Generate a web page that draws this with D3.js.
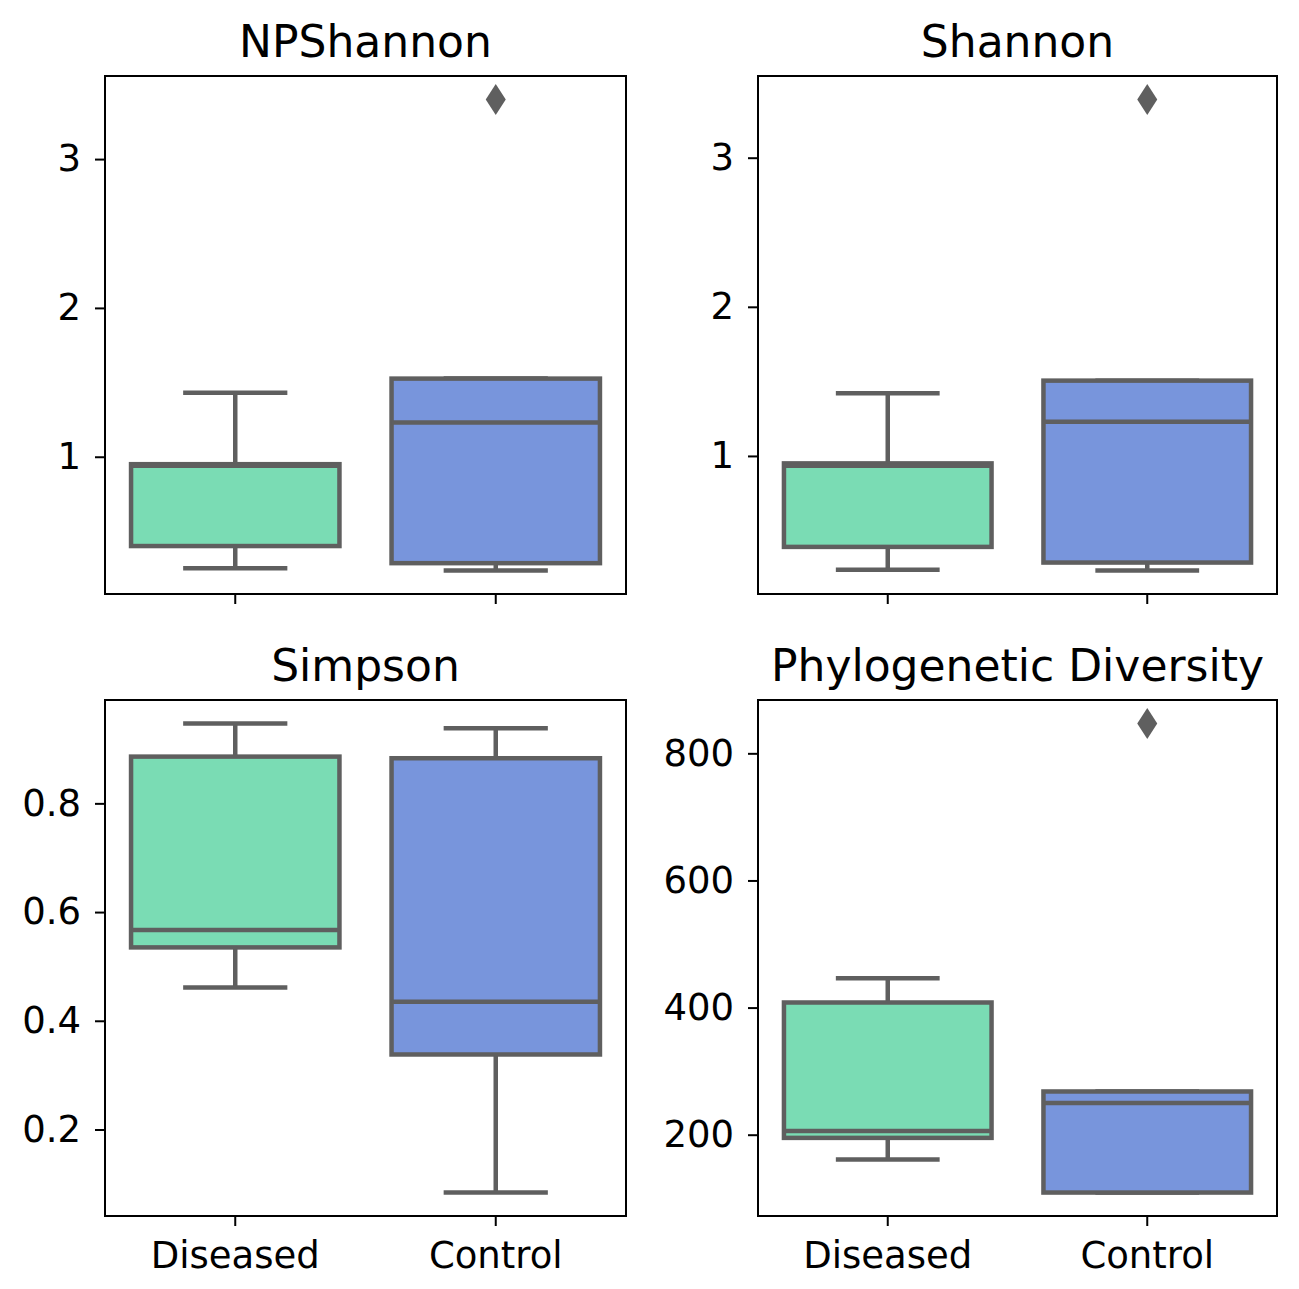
<!DOCTYPE html>
<html>
<head>
<meta charset="utf-8">
<script src="https://cdn.jsdelivr.net/npm/d3@7"></script>
<style>
  body { margin: 0; background: #fff; }
  text { font-family: "DejaVu Sans", sans-serif; }
</style>
</head>
<body>
<div id="chart"></div>
<script>
// groups and colours
const groups = ["Diseased", "Control"];
const groupColors = ["#7adcb4", "#7895dc"];

// box summaries per group: [whisker low, q1, median, q3, whisker high]
const npshannonBoxes = [[0.25, 0.40, 0.94, 0.95, 1.43], [0.236, 0.285, 1.23, 1.525, 1.525]];
const shannonBoxes = [[0.236, 0.39, 0.935, 0.95, 1.42], [0.232, 0.285, 1.23, 1.505, 1.505]];
const simpsonBoxes = [[0.461, 0.535, 0.567, 0.886, 0.947], [0.084, 0.338, 0.435, 0.883, 0.938]];
const pdBoxes = [[161, 195, 206, 408, 446], [109, 109, 250, 268, 268]];

// outliers per group
const npshannonOutliers = [[], [3.40]];
const shannonOutliers = [[], [3.39]];
const simpsonOutliers = [[], []];
const pdOutliers = [[], [847]];

// y tick values
const npshannonTicks = [1, 2, 3];
const shannonTicks = [1, 2, 3];
const simpsonTicks = [0.2, 0.4, 0.6, 0.8];
const pdTicks = [200, 400, 600, 800];

const panels = [
  { title: "NPShannon", boxes: npshannonBoxes, outliers: npshannonOutliers, ticks: npshannonTicks, col: 0, row: 0 },
  { title: "Shannon", boxes: shannonBoxes, outliers: shannonOutliers, ticks: shannonTicks, col: 1, row: 0 },
  { title: "Simpson", boxes: simpsonBoxes, outliers: simpsonOutliers, ticks: simpsonTicks, col: 0, row: 1 },
  { title: "Phylogenetic Diversity", boxes: pdBoxes, outliers: pdOutliers, ticks: pdTicks, col: 1, row: 1 }
];

// plot area edges
const colX = [[105, 626], [758, 1277]];
const rowY = [[76, 594], [700, 1216]];
const lineColor = "#5f5f5f";

const svg = d3
  .select("#chart")
  .append("svg")
  .attr("width", 1299)
  .attr("height", 1289);

panels.forEach((p) => {
  const [x0, x1] = colX[p.col];
  const [y0, y1] = rowY[p.row];
  const g = svg.append("g");

  // domain = data range plus 5% margins
  const all = p.boxes.flat().concat(p.outliers.flat());
  const lo = d3.min(all), hi = d3.max(all);
  const pad = (hi - lo) * 0.05;

  const x = d3.scaleBand().domain(groups).range([x0, x1]).padding(0);
  const y = d3.scaleLinear().domain([lo - pad, hi + pad]).range([y1, y0]);

  const boxW = x.bandwidth() * 0.8;
  const capW = boxW / 2;

  // boxes
  p.boxes.forEach((b, i) => {
    const cx = x(groups[i]) + x.bandwidth() / 2;
    const [wl, q1, med, q3, wh] = b;
    const bg = g.append("g")
      .attr("stroke", lineColor)
      .attr("stroke-width", 4.5);

    bg.append("line")
      .attr("x1", cx).attr("x2", cx)
      .attr("y1", y(q3)).attr("y2", y(wh));
    bg.append("line")
      .attr("x1", cx).attr("x2", cx)
      .attr("y1", y(q1)).attr("y2", y(wl));
    bg.append("line")
      .attr("x1", cx - capW / 2).attr("x2", cx + capW / 2)
      .attr("y1", y(wh)).attr("y2", y(wh));
    bg.append("line")
      .attr("x1", cx - capW / 2).attr("x2", cx + capW / 2)
      .attr("y1", y(wl)).attr("y2", y(wl));

    bg.append("rect")
      .attr("x", cx - boxW / 2)
      .attr("y", y(q3))
      .attr("width", boxW)
      .attr("height", y(q1) - y(q3))
      .attr("fill", groupColors[i]);
    bg.append("line")
      .attr("x1", cx - boxW / 2).attr("x2", cx + boxW / 2)
      .attr("y1", y(med)).attr("y2", y(med));

    // outliers as thin diamonds
    p.outliers[i].forEach((v) => {
      g.append("path")
        .attr("d", `M${cx},${y(v) - 15.5}L${cx + 10},${y(v)}L${cx},${y(v) + 15.5}L${cx - 10},${y(v)}Z`)
        .attr("fill", lineColor);
    });
  });

  // axes
  const yAxis = g.append("g")
    .attr("transform", `translate(${x0},0)`)
    .call(d3.axisLeft(y).tickValues(p.ticks).tickSize(10).tickPadding(14).tickFormat(d3.format("")));
  yAxis.select(".domain").remove();
  yAxis.selectAll("line").attr("stroke", "#000").attr("stroke-width", 2);
  yAxis.selectAll("text").attr("font-size", 37).attr("fill", "#000");

  const xAxis = g.append("g")
    .attr("transform", `translate(0,${y1})`)
    .call(d3.axisBottom(x).tickSize(10).tickPadding(16));
  xAxis.select(".domain").remove();
  xAxis.selectAll("line").attr("stroke", "#000").attr("stroke-width", 2);
  xAxis.selectAll("text")
    .attr("font-size", 37)
    .attr("fill", "#000")
    .text((d) => (p.row === 1 ? d : ""));

  // frame
  g.append("rect")
    .attr("x", x0).attr("y", y0)
    .attr("width", x1 - x0).attr("height", y1 - y0)
    .attr("fill", "none")
    .attr("stroke", "#000")
    .attr("stroke-width", 2);

  // title
  g.append("text")
    .attr("x", (x0 + x1) / 2)
    .attr("y", y0 - 19)
    .attr("text-anchor", "middle")
    .attr("font-size", 44)
    .text(p.title);
});
</script>
</body>
</html>
